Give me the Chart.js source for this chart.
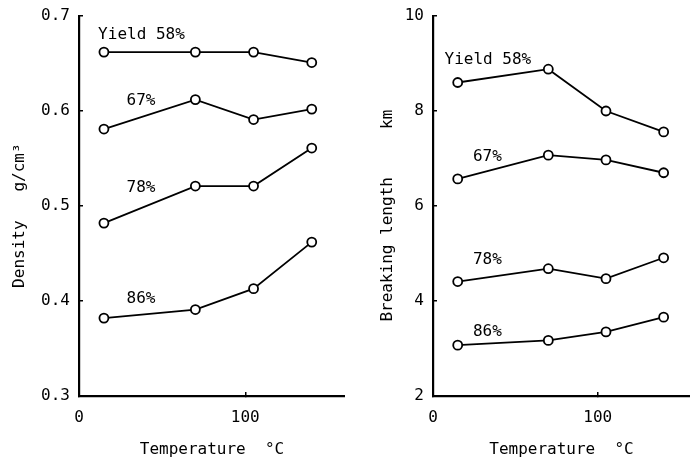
<!DOCTYPE html>
<html>
<head>
<meta charset="utf-8">
<script src="https://cdn.jsdelivr.net/npm/chart.js@4/dist/chart.umd.min.js"></script>
<style>
  html, body { margin: 0; padding: 0; background: #fff; }
  #wrap { position: relative; width: 690px; height: 461px; overflow: hidden; }
  canvas { position: absolute; top: 0; }
</style>
</head>
<body>
<div id="wrap">
  <canvas id="left" width="345" height="461" style="left:0"></canvas>
  <canvas id="right" width="345" height="461" style="left:345px"></canvas>
</div>
<script>
// ---- data ----
const temperatures = [15, 70, 105, 140];
const seriesNames = ['Yield 58%', '67%', '78%', '86%'];

const density58 = [0.662, 0.662, 0.662, 0.651];
const density67 = [0.581, 0.612, 0.591, 0.602];
const density78 = [0.482, 0.521, 0.521, 0.561];
const density86 = [0.382, 0.391, 0.413, 0.462];

const breaking58 = [8.60, 8.88, 8.00, 7.56];
const breaking67 = [6.57, 7.07, 6.97, 6.70];
const breaking78 = [4.41, 4.68, 4.47, 4.91];
const breaking86 = [3.07, 3.17, 3.35, 3.66];

const tempTicks = [0, 100];
const densityTicks = [0.3, 0.4, 0.5, 0.6, 0.7];
const breakingTicks = [2, 4, 6, 8, 10];

// ---- styling ----
const FONT = '"DejaVu Sans Mono", "Liberation Mono", monospace';
Chart.defaults.font.family = FONT;
Chart.defaults.font.size = 16;
Chart.defaults.color = '#000';

function makeDatasets(arrays) {
  return arrays.map((vals, i) => ({
    label: seriesNames[i],
    data: vals.map((v, j) => ({ x: temperatures[j], y: v })),
    borderColor: '#000',
    borderWidth: 1.8,
    backgroundColor: '#fff',
    pointBackgroundColor: '#fff',
    pointBorderColor: '#000',
    pointBorderWidth: 1.8,
    pointRadius: 4.5,
    tension: 0,
    fill: false,
    clip: false
  }));
}

// series labels, anchored in data space
const seriesLabelPlugin = {
  id: 'seriesLabels',
  afterDatasetsDraw(chart, args, opts) {
    const ctx = chart.ctx;
    const xs = chart.scales.x, ys = chart.scales.y;
    ctx.save();
    ctx.fillStyle = '#000';
    ctx.font = '16px ' + FONT;
    ctx.textBaseline = 'middle';
    (opts.items || []).forEach(it => {
      ctx.textAlign = it.align || 'center';
      ctx.fillText(it.text, xs.getPixelForValue(it.x), ys.getPixelForValue(it.y));
    });
    ctx.restore();
  }
};

function makeChart(id, arrays, yMin, yMax, yTicks, yFmt, yTitle, yAxisWidth, yTitlePad, xMax, labelItems) {
  return new Chart(document.getElementById(id), {
    type: 'line',
    data: { datasets: makeDatasets(arrays) },
    plugins: [seriesLabelPlugin],
    options: {
      responsive: false,
      animation: false,
      devicePixelRatio: 1,
      layout: { autoPadding: false, padding: { top: 16, right: 0, left: 0, bottom: 0 } },
      plugins: {
        legend: { display: false },
        tooltip: { enabled: false },
        seriesLabels: { items: labelItems }
      },
      scales: {
        x: {
          type: 'linear',
          min: 0, max: xMax,
          afterBuildTicks: s => { s.ticks = tempTicks.map(v => ({ value: v })); },
          afterFit: s => { s.height = 65; s.paddingLeft = 0; s.paddingRight = 0; },
          grid: { drawOnChartArea: false, drawTicks: true, tickLength: -4, color: '#000', lineWidth: 1.5 },
          border: { display: true, color: '#000', width: 2.2 },
          ticks: { padding: 16, color: '#000', font: { size: 16, family: FONT }, maxRotation: 0 },
          title: { display: true, text: 'Temperature  °C', color: '#000', font: { size: 16, family: FONT }, padding: { top: 0, bottom: 2 } }
        },
        y: {
          type: 'linear',
          min: yMin, max: yMax,
          afterBuildTicks: s => { s.ticks = yTicks.map(v => ({ value: v })); },
          afterFit: s => { s.width = yAxisWidth; s.paddingTop = 0; s.paddingBottom = 0; },
          grid: { drawOnChartArea: false, drawTicks: true, tickLength: -4, color: '#000', lineWidth: 1.5 },
          border: { display: true, color: '#000', width: 2.2 },
          ticks: { padding: 13, color: '#000', font: { size: 16, family: FONT }, callback: yFmt },
          title: { display: true, text: yTitle, color: '#000', font: { size: 16, family: FONT }, padding: { top: yTitlePad, bottom: 0 } }
        }
      }
    }
  });
}

makeChart('left', [density58, density67, density78, density86],
  0.3, 0.7, densityTicks, v => Number(v).toFixed(1),
  'Density   g/cm³  ', 79, 10, 160,
  [
    { text: seriesNames[0], x: 11.5, y: 0.680, align: 'left' },
    { text: seriesNames[1], x: 37.3, y: 0.611 },
    { text: seriesNames[2], x: 37.3, y: 0.5195 },
    { text: seriesNames[3], x: 37.3, y: 0.402 }
  ]);

makeChart('right', [breaking58, breaking67, breaking78, breaking86],
  2, 10, breakingTicks, v => String(v),
  'Breaking length     km  ', 88, 33, 156,
  [
    { text: seriesNames[0], x: 7, y: 9.07, align: 'left' },
    { text: seriesNames[1], x: 33, y: 7.03 },
    { text: seriesNames[2], x: 33, y: 4.86 },
    { text: seriesNames[3], x: 33, y: 3.35 }
  ]);
</script>
</body>
</html>
